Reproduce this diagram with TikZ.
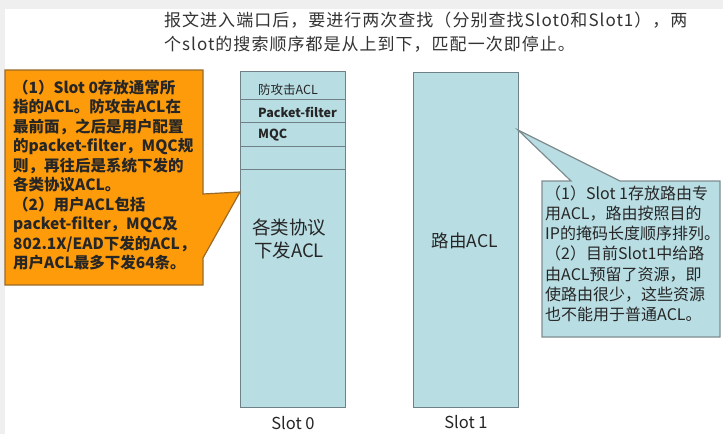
\documentclass[tikz,border=0pt]{standalone}
\usepackage{fontspec}
\setmainfont{Noto Sans CJK SC}
\newfontfamily\spacedfont[LetterSpace=6]{Noto Sans CJK SC}
\begin{document}
\begin{tikzpicture}[x=1pt,y=-1pt,
  callorange/.style={fill=orangefill,draw=orangeedge,line width=1.2pt,line join=miter},
  callblue/.style={fill=bluefill,draw=blueedge,line width=1.2pt,line join=miter},
  slotbox/.style={fill=bluefill,draw=slotedge,line width=0.8pt},
  rowline/.style={draw=slotedge,line width=0.8pt},
  linetext/.style={inner sep=0pt,anchor=base west},
  rowtext/.style={inner sep=0pt,anchor=west,font=\fontsize{12.5}{14}\selectfont,text=black!85}
]
\definecolor{orangefill}{HTML}{FD9B0B}
\definecolor{orangeedge}{HTML}{9A6A28}
\definecolor{bluefill}{HTML}{B8DDE3}
\definecolor{blueedge}{HTML}{7E8C90}
\definecolor{slotedge}{HTML}{6F8187}
\definecolor{outergray}{HTML}{EFEFEF}
\useasboundingbox (0,0) rectangle (723,434);
\fill[outergray] (0,0) rectangle (723,434);
\fill[white] (5,9) rectangle (723,434);

% top text
\node[linetext,font=\fontsize{17}{20}\spacedfont,text=black!80] (top1) at (164,26.5)
  {报文进入端口后，要进行两次查找（分别查找Slot0和Slot1），两};
\node[linetext,font=\fontsize{17}{20}\spacedfont,text=black!80] (top2) at (164,50.5)
  {个slot的搜索顺序都是从上到下，匹配一次即停止。};

% slot boxes
\draw[slotbox] (240,71) rectangle (345,407);
\draw[rowline] (240,99) -- (345,99);
\draw[rowline] (240,122) -- (345,122);
\draw[rowline] (240,146) -- (345,146);
\draw[rowline] (240,169) -- (345,169);
\node[rowtext] (r1) at (258,90) {防攻击ACL};
\node[rowtext,font=\fontsize{12.5}{14}\bfseries] (r2) at (258,112) {Packet-filter};
\node[rowtext,font=\fontsize{12.5}{14}\bfseries] (r3) at (258,135) {MQC};
\node[inner sep=0pt,align=center,font=\fontsize{18.5}{23}\selectfont,text=black!85] (r5) at (289,239) {各类协议\\下发ACL};

\draw[slotbox] (413,72) rectangle (518,407);
\node[inner sep=0pt,font=\fontsize{17.5}{20}\selectfont,text=black!85] (s1) at (465,241) {路由ACL};

\node[inner sep=0pt,font=\fontsize{16.5}{20}\selectfont,text=black!85] (l0) at (293,423) {Slot 0};
\node[inner sep=0pt,font=\fontsize{16.5}{20}\selectfont,text=black!85] (l1) at (466,422) {Slot 1};

% orange callout
\draw[callorange] (5,70) -- (203,70) -- (203,194) -- (240,192) -- (203,258) -- (203,285) -- (5,285) -- cycle;
\foreach \t [count=\i from 0] in {（1）Slot 0存放通常所,指的ACL。防攻击ACL在,最前面，之后是用户配置,的packet-filter，MQC规,则，再往后是系统下发的,各类协议ACL。,（2）用户ACL包括,packet-filter，MQC及,802.1X/EAD下发的ACL，,用户ACL最多下发64条。}
  \node[linetext,font=\fontsize{15.5}{18}\bfseries,text=black!85] (o\i) at (13,93+19.55*\i) {\t};

% blue callout
\draw[callblue] (542,181) -- (571,181) -- (518,130) -- (620,181) -- (720,181) -- (720,337) -- (542,337) -- cycle;
\foreach \t [count=\i from 0] in {（1）Slot 1存放路由专,用ACL，路由按照目的,IP的掩码长度顺序排列。,（2）目前Slot1中给路,由ACL预留了资源，即,使路由很少，这些资源,也不能用于普通ACL。}
  \node[linetext,font=\fontsize{16}{18}\selectfont,text=black!85] (b\i) at (545,199+20.3*\i) {\t};
\end{tikzpicture}
\end{document}
